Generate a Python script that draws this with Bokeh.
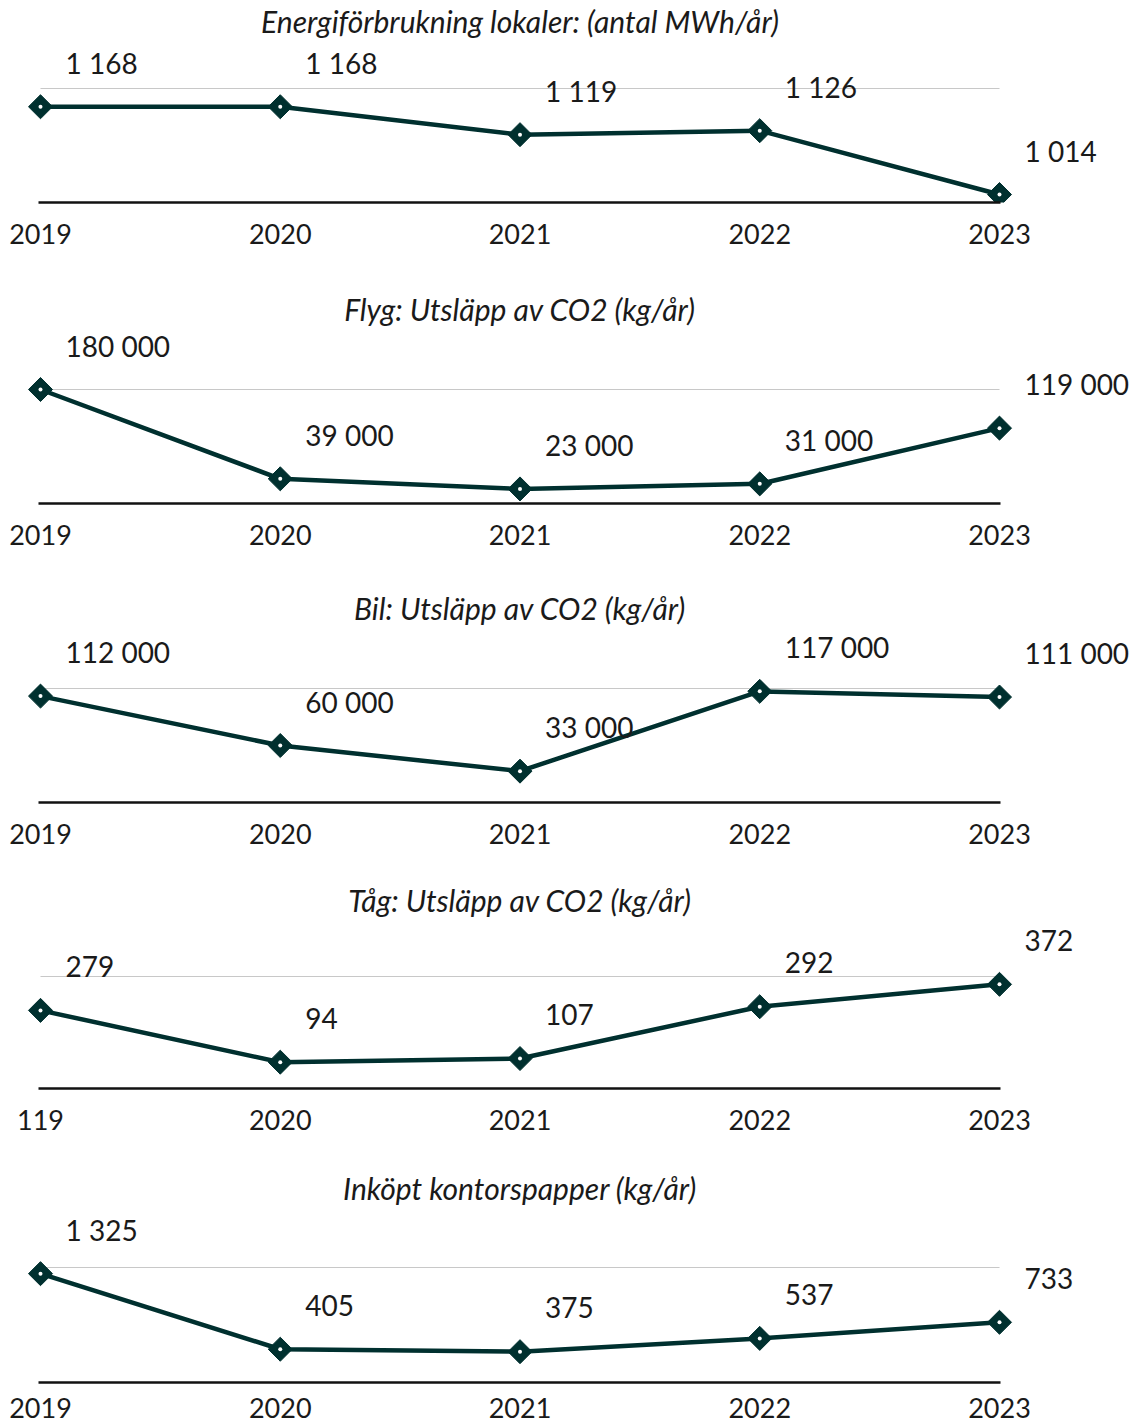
import numpy as np
from bokeh.plotting import figure
from bokeh.models import Range1d, FixedTicker, Label
from bokeh.layouts import column
from bokeh.embed import file_html
from bokeh.resources import INLINE
from bokeh.core.properties import value

# ---------------- data ----------------
years = [2019, 2020, 2021, 2022, 2023]

titles = [
    "Energiförbrukning lokaler: (antal MWh/år)",
    "Flyg: Utsläpp av CO2 (kg/år)",
    "Bil: Utsläpp av CO2 (kg/år)",
    "Tåg: Utsläpp av CO2 (kg/år)",
    "Inköpt kontorspapper (kg/år)",
]
energy = [1168, 1168, 1119, 1126, 1014]
flyg = [180000, 39000, 23000, 31000, 119000]
bil = [112000, 60000, 33000, 117000, 111000]
tag = [279, 94, 107, 292, 372]
papper = [1325, 405, 375, 537, 733]

tick_labels_std = ["2019", "2020", "2021", "2022", "2023"]
tick_labels_tag = ["119", "2020", "2021", "2022", "2023"]

series = [energy, flyg, bil, tag, papper]
tick_labels = [tick_labels_std, tick_labels_std, tick_labels_std, tick_labels_tag, tick_labels_std]
axis_min = [1000, 0, 0, 0, 0]
grid_val = [1200, 180000, 120000, 400, 1400]

# ---------------- layout (pixels) ----------------
fig_heights = [270, 300, 295, 297, 265]
frame_heights = [202, 233, 232, 223, 220]
grid_px = [114, 114, 114, 112, 115]       # px between axis line and gridline
title_px = [182, 195, 195, 189, 195]      # px between axis line and title centre
label_standoff = [21, 21, 21, 21, 15]

W = 1141
px_per_year = 239.75
left_pad = 40
x_start = years[0] - left_pad / px_per_year
x_end = x_start + W / px_per_year

LINE = "#00302f"
TXT = "#1a1a1a"
FONT = "Lato"


def fmt(v):
    return f"{v:,}".replace(",", " ")


figs = []
for i in range(5):
    vals = series[i]
    ymin = axis_min[i]
    upp = (grid_val[i] - ymin) / grid_px[i]  # units per pixel
    y_end = ymin + frame_heights[i] * upp

    p = figure(
        width=W, height=fig_heights[i],
        x_range=Range1d(x_start, x_end), y_range=Range1d(ymin, y_end),
        output_backend="svg", toolbar_location=None, title=None,
        y_axis_location=None,
        min_border_left=0, min_border_right=0, min_border_top=0,
        min_border_bottom=fig_heights[i] - frame_heights[i],
    )
    p.outline_line_color = None
    p.background_fill_color = "white"
    p.border_fill_color = "white"
    p.xgrid.visible = False
    p.ygrid.visible = False

    ax = p.xaxis[0]
    ax.ticker = FixedTicker(ticks=years)
    ax.major_label_overrides = {y: lab for y, lab in zip(years, tick_labels[i])}
    ax.bounds = (years[0] - 2 / px_per_year, years[-1] + 1 / px_per_year)
    ax.axis_line_color = "#111111"
    ax.axis_line_width = 2.5
    ax.major_tick_line_color = None
    ax.minor_tick_line_color = None
    ax.major_tick_out = 0
    ax.major_tick_in = 0
    ax.major_label_standoff = label_standoff[i]
    ax.major_label_text_font = FONT
    ax.major_label_text_font_size = "27px"
    ax.major_label_text_color = TXT

    # single gridline at top value
    p.segment(x0=[years[0]], x1=[years[-1]], y0=[grid_val[i]], y1=[grid_val[i]],
              line_color="#c8c8c8", line_width=1.2)

    p.line(years, vals, line_width=4.5, line_color=LINE, line_join="round")
    p.scatter(years, vals, marker="square", angle=np.pi / 4, size=17,
              fill_color=LINE, line_color=LINE)
    p.scatter(years, vals, marker="circle", size=4, fill_color="white", line_color=None)

    p.text(x=years, y=vals, text=[fmt(v) for v in vals], x_offset=25, y_offset=-44,
           text_align="left", text_baseline="middle", text_font=value(FONT),
           text_font_size="28px", text_color=TXT)

    p.add_layout(Label(x=(years[0] + years[-1]) / 2, y=ymin + title_px[i] * upp,
                       text=titles[i], text_align="center", text_baseline="middle",
                       text_font=FONT, text_font_style="italic", text_font_size="30px",
                       text_color=TXT))
    figs.append(p)

layout = column(*figs, spacing=0)
open("out.html", "w").write(file_html(layout, INLINE))
